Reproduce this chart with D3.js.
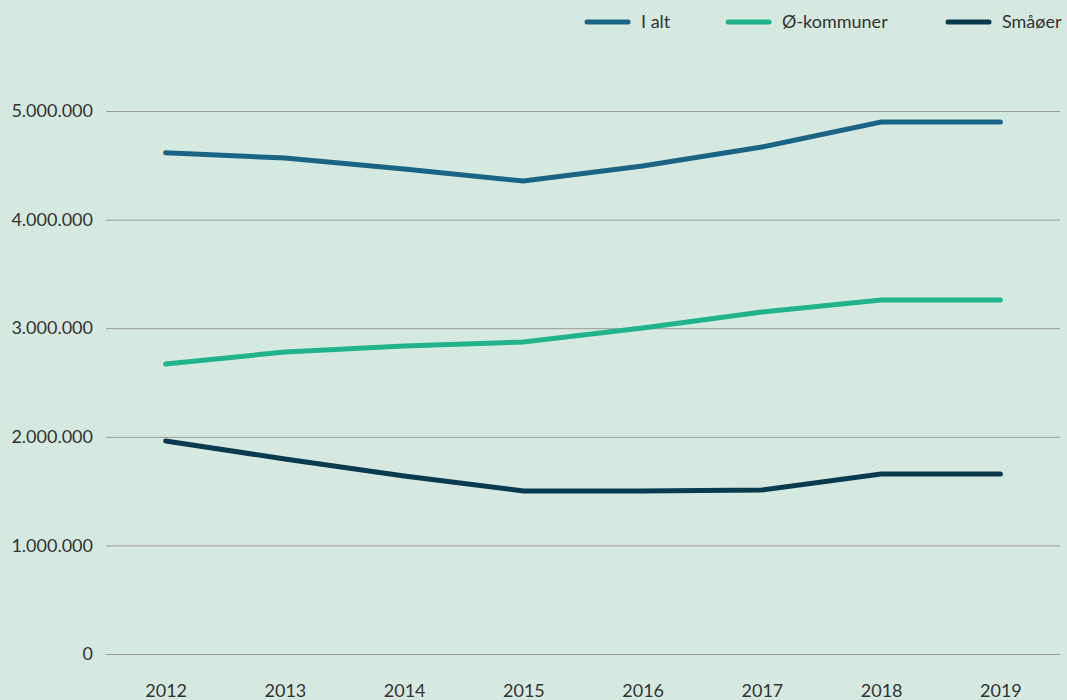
<!DOCTYPE html>
<html>
<head>
<meta charset="utf-8">
<script src="https://cdn.jsdelivr.net/npm/d3@7"></script>
<style>
  html, body { margin: 0; padding: 0; background: #d6e9e0; }
  svg { display: block; font-family: Lato, 'Open Sans', sans-serif; }
  .tick text { fill: #333; }
</style>
</head>
<body>
<div id="chart"></div>
<script>
// data
const years = ['2012', '2013', '2014', '2015', '2016', '2017', '2018', '2019'];
const iAlt = [4615000, 4567000, 4466000, 4355000, 4494000, 4668000, 4899000, 4899000];
const oKommuner = [2670000, 2781000, 2836000, 2873000, 3002000, 3149000, 3260000, 3260000];
const smaaoer = [1961000, 1796000, 1639000, 1501000, 1501000, 1510000, 1657000, 1657000];
const seriesNames = ['I alt', 'Ø-kommuner', 'Småøer'];
const yTicks = [0, 1000000, 2000000, 3000000, 4000000, 5000000];

const colors = ['#1a6585', '#21b48c', '#0a3a4e'];
const series = [iAlt, oKommuner, smaaoer];

const width = 1067, height = 700;
const margin = { top: 111, right: 7, bottom: 46, left: 106 };

const svg = d3.select('#chart')
  .append('svg')
  .attr('width', width)
  .attr('height', height);

const x = d3.scalePoint()
  .domain(years)
  .range([margin.left, width - margin.right])
  .padding(0.5);

const y = d3.scaleLinear()
  .domain([0, 5000000])
  .range([height - margin.bottom, margin.top]);

const fmt = d => d3.format(',')(d).replace(/,/g, '.');

// horizontal grid + y labels
const yAxis = svg.append('g')
  .attr('transform', `translate(${margin.left},0)`)
  .call(d3.axisLeft(y)
    .tickValues(yTicks)
    .tickFormat(fmt)
    .tickSize(-(width - margin.left - margin.right))
    .tickPadding(13))
  .attr('font-family', null)
  .attr('font-size', null);
yAxis.select('.domain').remove();
yAxis.selectAll('.tick line').attr('stroke', '#999').attr('stroke-width', 1);
yAxis.selectAll('.tick text').attr('font-size', 18);

// x labels
const xAxis = svg.append('g')
  .attr('transform', `translate(0,${height - margin.bottom})`)
  .call(d3.axisBottom(x).tickSize(0).tickPadding(30))
  .attr('font-family', null)
  .attr('font-size', null);
xAxis.select('.domain').remove();
xAxis.selectAll('.tick text').attr('font-size', 18);

// lines
const line = d3.line()
  .x((d, i) => x(years[i]))
  .y(d => y(d));

series.forEach((s, i) => {
  svg.append('path')
    .datum(s)
    .attr('fill', 'none')
    .attr('stroke', colors[i])
    .attr('stroke-width', 5)
    .attr('stroke-linecap', 'round')
    .attr('stroke-linejoin', 'miter')
    .attr('d', line);
});

// legend
const legendX = [587, 728, 948];
const legend = svg.append('g');
seriesNames.forEach((name, i) => {
  const g = legend.append('g').attr('transform', `translate(${legendX[i]},22)`);
  g.append('line')
    .attr('x1', 0).attr('x2', 41)
    .attr('y1', 0).attr('y2', 0)
    .attr('stroke', colors[i])
    .attr('stroke-width', 5)
    .attr('stroke-linecap', 'round');
  g.append('text')
    .attr('x', 54)
    .attr('y', 0)
    .attr('dy', '0.35em')
    .attr('font-size', 18)
    .attr('fill', '#333')
    .text(name);
});
</script>
</body>
</html>
